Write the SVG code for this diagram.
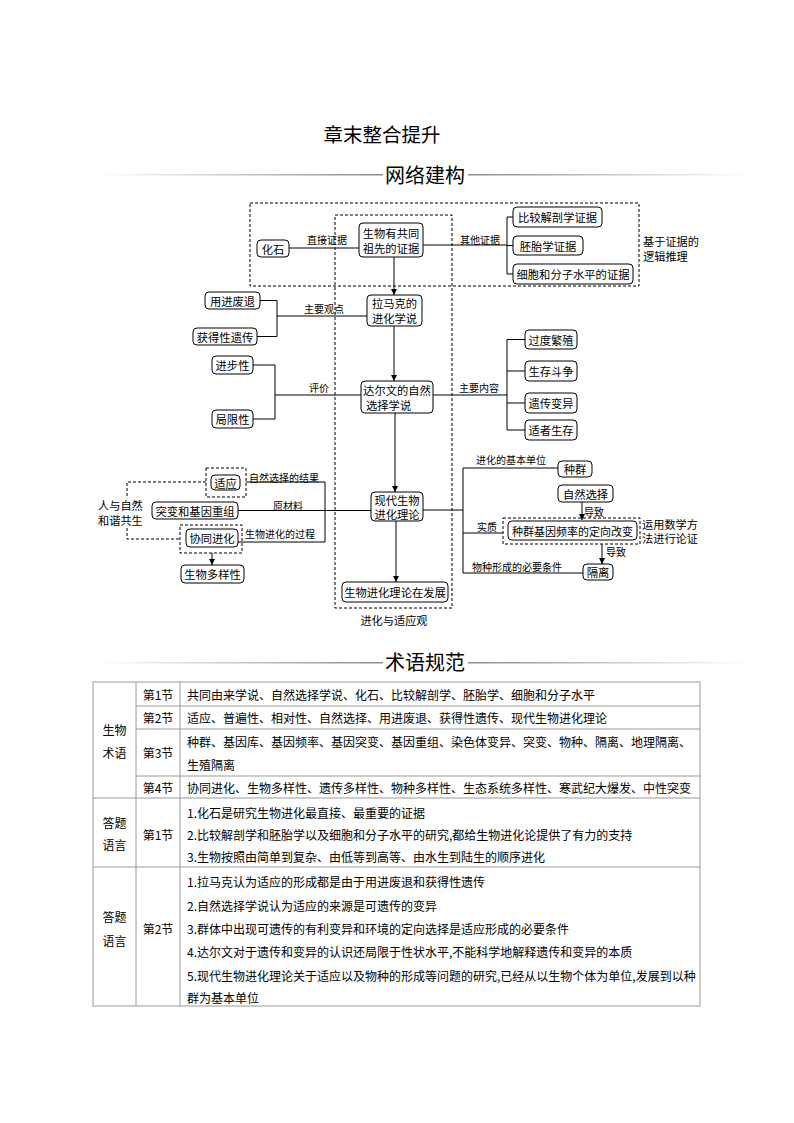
<svg xmlns="http://www.w3.org/2000/svg" width="794" height="1123" viewBox="0 0 794 1123">
<style>
text{font-family:"Noto Sans CJK SC","Noto Sans",sans-serif;fill:#000;dominant-baseline:central}
.n rect{fill:#fff;stroke:#000;stroke-width:1}
.n text{font-size:11.3px;text-anchor:middle}
.lbl{font-size:10px}
.mid{text-anchor:middle}
.note{font-size:11.2px}
.c line,.c polyline{stroke:#000;stroke-width:1;fill:none}
.dash{fill:none;stroke:#000;stroke-width:1;stroke-dasharray:3 2}
.t line{stroke:#9a9a9a;stroke-width:1}
.t text{font-size:12px}
.h{font-size:20px;text-anchor:middle}
</style>
<defs>
<marker id="ar" viewBox="0 0 8 8" refX="8" refY="4" markerWidth="6" markerHeight="6" orient="auto" markerUnits="userSpaceOnUse">
<path d="M0,0 L8,4 L0,8 z" fill="#000"/>
</marker>
<linearGradient id="gl" x1="0" x2="1" y1="0" y2="0">
<stop offset="0" stop-color="#fff"/><stop offset="1" stop-color="#8c8c8c"/>
</linearGradient>
<linearGradient id="gr" x1="0" x2="1" y1="0" y2="0">
<stop offset="0" stop-color="#8c8c8c"/><stop offset="1" stop-color="#fff"/>
</linearGradient>
</defs>

<g id="title">
<text x="382" y="133" style="font-size:19.5px;text-anchor:middle">章末整合提升</text>
</g>
<g id="header1">
<rect x="100" y="174" width="283" height="1.5" fill="url(#gl)"/>
<rect x="468" y="174" width="282" height="1.5" fill="url(#gr)"/>
<text class="h" x="425" y="174">网络建构</text>
</g>

<!-- dashed frames -->
<g id="frames">
<rect class="dash" x="250" y="203" width="389" height="83"/>
<rect class="dash" x="335" y="215" width="117" height="393"/>
<rect class="dash" x="206" y="468" width="40" height="29"/>
<rect class="dash" x="180" y="525" width="62" height="28"/>
<rect class="dash" x="503" y="518" width="137" height="26"/>
<polyline class="dash" points="206,482 127,482 127,497"/>
<polyline class="dash" points="127,528 127,539 180,539"/>
</g>

<g id="connectors" class="c">
<line x1="289" y1="248" x2="359" y2="248"/>
<line x1="423" y1="245" x2="507" y2="245"/>
<line x1="507" y1="217" x2="507" y2="274"/>
<line x1="507" y1="217" x2="513" y2="217"/>
<line x1="507" y1="245.5" x2="513" y2="245.5"/>
<line x1="507" y1="274" x2="513" y2="274"/>
<line x1="394" y1="257" x2="394" y2="295" marker-end="url(#ar)"/>
<polyline points="260,300.5 277,300.5 277,336.5 257,336.5"/>
<line x1="277" y1="316" x2="367" y2="316"/>
<line x1="394" y1="326" x2="394" y2="381" marker-end="url(#ar)"/>
<polyline points="253,365 275,365 275,419 253,419"/>
<line x1="275" y1="395" x2="361" y2="395"/>
<line x1="433" y1="395" x2="507" y2="395"/>
<line x1="507" y1="339.5" x2="507" y2="430"/>
<line x1="507" y1="339.5" x2="525" y2="339.5"/>
<line x1="507" y1="371" x2="525" y2="371"/>
<line x1="507" y1="403" x2="525" y2="403"/>
<line x1="507" y1="430" x2="525" y2="430"/>
<line x1="395" y1="413" x2="395" y2="492" marker-end="url(#ar)"/>
<polyline points="246,482 325,482 325,542 238,542"/>
<line x1="238" y1="510.5" x2="371" y2="510.5"/>
<line x1="212" y1="553" x2="212" y2="565" marker-end="url(#ar)"/>
<line x1="396" y1="521" x2="396" y2="582" marker-end="url(#ar)"/>
<line x1="423" y1="510" x2="463" y2="510"/>
<line x1="463" y1="468" x2="463" y2="573"/>
<line x1="463" y1="468" x2="558" y2="468"/>
<line x1="463" y1="533" x2="503" y2="533"/>
<line x1="463" y1="573" x2="583" y2="573"/>
<line x1="582" y1="502" x2="582" y2="520" marker-end="url(#ar)"/>
<line x1="602" y1="544" x2="602" y2="564" marker-end="url(#ar)"/>
</g>

<g id="labels" class="lbl">
<text class="mid" x="327" y="239">直接证据</text>
<text class="mid" x="480" y="239">其他证据</text>
<text class="mid" x="324" y="308">主要观点</text>
<text class="mid" x="319" y="387">评价</text>
<text class="mid" x="479" y="387">主要内容</text>
<text x="249" y="477">自然选择的结果</text>
<text class="mid" x="288" y="505">原材料</text>
<text x="245" y="533">生物进化的过程</text>
<text x="476" y="459">进化的基本单位</text>
<text x="584" y="511">导致</text>
<text x="477" y="526">实质</text>
<text x="606" y="551">导致</text>
<text x="472" y="566">物种形成的必要条件</text>
</g>

<g id="notes" class="note">
<text x="643" y="241">基于证据的</text>
<text x="643" y="256">逻辑推理</text>
<text x="98" y="505">人与自然</text>
<text x="98" y="520">和谐共生</text>
<text x="642" y="524">运用数学方</text>
<text x="642" y="538">法进行论证</text>
<text x="394" y="620" class="mid">进化与适应观</text>
</g>

<g id="n-huashi" class="n"><rect x="257" y="240" width="32" height="17" rx="4"/><text x="273" y="248.5">化石</text></g>
<g id="n-zuxian" class="n"><rect x="359" y="223" width="64" height="34" rx="4"/><text x="391" y="233">生物有共同</text><text x="391" y="248">祖先的证据</text></g>
<g id="n-jiepou" class="n"><rect x="513" y="207" width="89" height="20" rx="4"/><text x="557.5" y="217">比较解剖学证据</text></g>
<g id="n-peitai" class="n"><rect x="513" y="236" width="70" height="19" rx="4"/><text x="548" y="245.5">胚胎学证据</text></g>
<g id="n-xibao" class="n"><rect x="513" y="264" width="120" height="20" rx="4"/><text x="573" y="274">细胞和分子水平的证据</text></g>
<g id="n-yongjin" class="n"><rect x="205" y="292" width="55" height="17" rx="4"/><text x="232.5" y="300.5">用进废退</text></g>
<g id="n-huode" class="n"><rect x="193" y="328" width="64" height="17" rx="4"/><text x="225" y="336.5">获得性遗传</text></g>
<g id="n-lamake" class="n"><rect x="367" y="295" width="55" height="31" rx="4"/><text x="394.5" y="303">拉马克的</text><text x="394.5" y="318">进化学说</text></g>
<g id="n-jinbu" class="n"><rect x="212" y="356" width="41" height="18" rx="4"/><text x="232.5" y="365">进步性</text></g>
<g id="n-juxian" class="n"><rect x="212" y="410" width="41" height="18" rx="4"/><text x="232.5" y="419">局限性</text></g>
<g id="n-daerwen" class="n"><rect x="361" y="381" width="72" height="32" rx="4"/><text x="397" y="389.5">达尔文的自然</text><text x="366" y="404.5" style="text-anchor:start">选择学说</text></g>
<g id="n-guodu" class="n"><rect x="525" y="330" width="52" height="19" rx="4"/><text x="551" y="339.5">过度繁殖</text></g>
<g id="n-shengcun" class="n"><rect x="525" y="361" width="52" height="20" rx="4"/><text x="551" y="371">生存斗争</text></g>
<g id="n-yichuan" class="n"><rect x="525" y="393" width="52" height="20" rx="4"/><text x="551" y="403">遗传变异</text></g>
<g id="n-shizhe" class="n"><rect x="525" y="420" width="52" height="20" rx="4"/><text x="551" y="430">适者生存</text></g>
<g id="n-xiandai" class="n"><rect x="371" y="492" width="52" height="29" rx="4"/><text x="397" y="499.5">现代生物</text><text x="397" y="513.5">进化理论</text></g>
<g id="n-fazhan" class="n"><rect x="342" y="582" width="106" height="20" rx="4"/><text x="395" y="592">生物进化理论在发展</text></g>
<g id="n-shiying" class="n"><rect x="211" y="475" width="29" height="15" rx="4"/><text x="225.5" y="482.5">适应</text></g>
<g id="n-tubian" class="n"><rect x="152" y="502" width="86" height="17" rx="4"/><text x="195" y="510.5">突变和基因重组</text></g>
<g id="n-xietong" class="n"><rect x="186" y="529" width="52" height="18" rx="4"/><text x="212" y="538">协同进化</text></g>
<g id="n-duoyang" class="n"><rect x="181" y="565" width="63" height="18" rx="4"/><text x="212.5" y="574">生物多样性</text></g>
<g id="n-zhongqun" class="n"><rect x="558" y="461" width="34" height="16" rx="4"/><text x="575" y="469">种群</text></g>
<g id="n-ziran" class="n"><rect x="558" y="485" width="55" height="17" rx="4"/><text x="585.5" y="493.5">自然选择</text></g>
<g id="n-pinlv" class="n"><rect x="508" y="521" width="129" height="19" rx="4"/><text x="572.5" y="530.5" style="font-size:11px">种群基因频率的定向改变</text></g>
<g id="n-geli" class="n"><rect x="583" y="564" width="30" height="16" rx="4"/><text x="598" y="572">隔离</text></g>

<g id="header2">
<rect x="100" y="662" width="283" height="1.5" fill="url(#gl)"/>
<rect x="468" y="662" width="282" height="1.5" fill="url(#gr)"/>
<text class="h" x="425" y="661">术语规范</text>
</g>

<g id="table" class="t">
<rect x="93" y="682" width="607" height="324" fill="none" stroke="#9a9a9a" stroke-width="1"/>
<line x1="136" y1="682" x2="136" y2="1006"/>
<line x1="180" y1="682" x2="180" y2="1006"/>
<line x1="136" y1="706" x2="700" y2="706"/>
<line x1="136" y1="729" x2="700" y2="729"/>
<line x1="136" y1="776" x2="700" y2="776"/>
<line x1="93" y1="798" x2="700" y2="798"/>
<line x1="93" y1="867" x2="700" y2="867"/>
<text x="114.5" y="729" text-anchor="middle">生物</text>
<text x="114.5" y="752" text-anchor="middle">术语</text>
<text x="158" y="694" text-anchor="middle">第1节</text>
<text x="158" y="717.5" text-anchor="middle">第2节</text>
<text x="158" y="752.5" text-anchor="middle">第3节</text>
<text x="158" y="787" text-anchor="middle">第4节</text>
<text x="187" y="694">共同由来学说、自然选择学说、化石、比较解剖学、胚胎学、细胞和分子水平</text>
<text x="187" y="717.5">适应、普遍性、相对性、自然选择、用进废退、获得性遗传、现代生物进化理论</text>
<text x="187" y="741.5">种群、基因库、基因频率、基因突变、基因重组、染色体变异、突变、物种、隔离、地理隔离、</text>
<text x="187" y="764">生殖隔离</text>
<text x="187" y="787">协同进化、生物多样性、遗传多样性、物种多样性、生态系统多样性、寒武纪大爆发、中性突变</text>
<text x="114.5" y="822" text-anchor="middle">答题</text>
<text x="114.5" y="844" text-anchor="middle">语言</text>
<text x="158" y="834" text-anchor="middle">第1节</text>
<text x="187" y="812">1.化石是研究生物进化最直接、最重要的证据</text>
<text x="187" y="834">2.比较解剖学和胚胎学以及细胞和分子水平的研究,都给生物进化论提供了有力的支持</text>
<text x="187" y="856">3.生物按照由简单到复杂、由低等到高等、由水生到陆生的顺序进化</text>
<text x="114.5" y="916" text-anchor="middle">答题</text>
<text x="114.5" y="940" text-anchor="middle">语言</text>
<text x="158" y="928" text-anchor="middle">第2节</text>
<text x="187" y="881">1.拉马克认为适应的形成都是由于用进废退和获得性遗传</text>
<text x="187" y="905">2.自然选择学说认为适应的来源是可遗传的变异</text>
<text x="187" y="928">3.群体中出现可遗传的有利变异和环境的定向选择是适应形成的必要条件</text>
<text x="187" y="951">4.达尔文对于遗传和变异的认识还局限于性状水平,不能科学地解释遗传和变异的本质</text>
<text x="187" y="975">5.现代生物进化理论关于适应以及物种的形成等问题的研究,已经从以生物个体为单位,发展到以种</text>
<text x="187" y="997">群为基本单位</text>
</g>
</svg>
